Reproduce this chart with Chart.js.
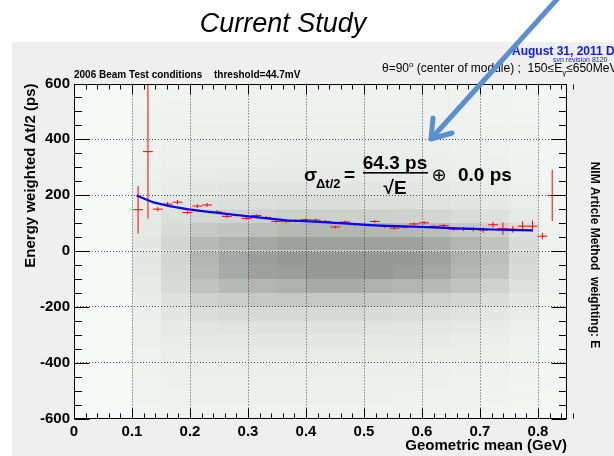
<!DOCTYPE html>
<html>
<head>
<meta charset="utf-8">
<script src="https://cdn.jsdelivr.net/npm/chart.js@4/dist/chart.umd.min.js"></script>
<style>
html,body{margin:0;padding:0;background:#fff;}
#wrap{position:relative;width:614px;height:456px;}
</style>
</head>
<body>
<div id="wrap"><canvas id="c" width="614" height="456"></canvas></div>
<script>
// ---------------- data ----------------
// profile histogram (red crosses): bin centres (GeV), mean (ps), error (ps)
const profileX = [0.1105,0.1275,0.1445,0.1615,0.1785,0.1955,0.2125,0.2295,0.2465,0.2635,0.2805,0.2975,0.3145,0.3315,0.3485,0.3655,0.3825,0.3995,0.4165,0.4335,0.4505,0.4675,0.4845,0.5015,0.5185,0.5355,0.5525,0.5695,0.5865,0.6035,0.6205,0.6375,0.6545,0.6715,0.6885,0.7055,0.7225,0.7395,0.7565,0.7735,0.7905,0.8075,0.8245];
const profileY = [148,356,150,168,175,138,161,165,140,124,128,117,127,120,106,105,107,112,111,106,86,104,96,94,106,88,82,86,97,101,88,91,78,79,78,75,94,80,78,89,89,53,199];
const profileErr = [85,240,8,8,8,7,7,7,6,6,5,5,5,5,5,5,5,5,5,5,5,5,5,5,5,5,5,5,5,6,6,6,6,7,8,9,10,22,12,18,20,12,92];
const profileBinHalfWidth = 0.0085;

// blue fitted curve, read at these energies
const fitX = [0.108,0.137,0.165,0.195,0.225,0.252,0.28,0.309,0.338,0.367,0.395,0.424,0.45,0.48,0.51,0.54,0.57,0.6,0.63,0.66,0.69,0.72,0.75,0.79];
const fitY = [199,174,161,150,142,136,129,122,116,110,107,104,101,97,93,90,88,86,84,81,79,77,76,74];

// scatter-point density (relative, 0..10), columns = cellX, rows between cellYEdges (top to bottom)
const cellX = [0.125,0.175,0.225,0.275,0.325,0.375,0.425,0.475,0.525,0.575,0.625,0.675,0.725,0.775,0.825];
const cellYEdges = [600,550,500,450,400,350,300,250,200,150,100,50,0,-50,-100,-150,-200,-250,-300,-350,-400,-450,-500,-550,-600];
const density = [
 [0.5,0.5,0.8,0.8,0.8,0.8,0.8,0.8,0.8,0.8,0.8,0.6,0.6,0.5,0.3],
 [0.5,0.6,0.8,0.8,0.8,0.8,0.8,0.8,0.8,0.8,0.8,0.6,0.6,0.5,0.3],
 [0.6,0.7,0.9,0.9,0.9,0.9,0.9,0.9,0.9,0.9,0.8,0.7,0.6,0.5,0.3],
 [0.6,0.8,1.0,1.0,1.0,1.0,1.0,1.0,1.0,1.0,0.9,0.8,0.7,0.6,0.3],
 [0.7,0.9,1.1,1.1,1.1,1.1,1.1,1.1,1.1,1.1,1.0,0.9,0.8,0.6,0.4],
 [0.8,1.0,1.2,1.2,1.2,1.3,1.3,1.3,1.3,1.2,1.1,1.0,0.9,0.7,0.4],
 [0.9,1.2,1.4,1.5,1.5,1.5,1.5,1.5,1.5,1.4,1.3,1.2,1.0,0.8,0.4],
 [1.0,1.4,1.8,2.0,2.0,2.0,2.0,2.0,2.0,1.9,1.7,1.5,1.2,1.0,0.5],
 [1.2,1.8,2.4,2.6,2.7,2.8,2.8,2.8,2.7,2.6,2.3,2.0,1.6,1.2,0.5],
 [1.5,2.5,3.4,3.8,4.0,4.2,4.3,4.3,4.2,4.0,3.5,3.0,2.4,1.6,0.6],
 [1.7,3.0,5.0,5.5,6.0,6.5,6.8,6.8,6.8,6.5,6.0,5.0,4.0,2.5,0.7],
 [1.8,3.5,6.5,7.5,8.5,9.0,9.0,9.0,9.0,9.0,8.0,7.0,5.5,3.0,0.8],
 [1.8,3.5,7.0,8.5,9.5,10,10,10,10,10,9.0,7.5,6.0,3.3,0.8],
 [1.7,3.3,6.5,8.0,9.0,9.5,10,10,10,9.5,8.5,7.0,5.5,3.0,0.8],
 [1.5,3.0,5.5,6.5,7.0,7.5,8.0,8.0,7.5,7.0,6.5,5.5,4.0,2.5,0.7],
 [1.3,2.4,4.0,4.5,5.0,5.0,5.0,5.0,4.8,4.5,4.0,3.5,2.8,1.8,0.6],
 [1.1,1.9,2.8,3.0,3.2,3.2,3.2,3.2,3.0,2.8,2.6,2.3,1.8,1.3,0.5],
 [1.0,1.5,2.0,2.2,2.3,2.3,2.3,2.3,2.2,2.0,1.9,1.7,1.4,1.0,0.4],
 [0.9,1.3,1.6,1.7,1.8,1.8,1.8,1.8,1.7,1.6,1.5,1.3,1.1,0.8,0.4],
 [0.8,1.1,1.3,1.4,1.4,1.4,1.4,1.4,1.4,1.3,1.2,1.1,0.9,0.7,0.3],
 [0.7,1.0,1.1,1.2,1.2,1.2,1.2,1.2,1.1,1.1,1.0,0.9,0.8,0.6,0.3],
 [0.6,0.9,1.0,1.0,1.0,1.0,1.0,1.0,1.0,1.0,0.9,0.8,0.7,0.5,0.3],
 [0.6,0.8,0.9,0.9,0.9,0.9,0.9,0.9,0.9,0.8,0.8,0.7,0.6,0.5,0.2],
 [0.5,0.7,0.8,0.8,0.8,0.8,0.8,0.8,0.8,0.7,0.7,0.6,0.5,0.4,0.2]
];

// axes
const xMin = 0, xMax = 0.85, xStep = 0.1, xMinorStep = 0.02;
const yMin = -600, yMax = 600, yStep = 200, yMinorStep = 50;

// ---------------- build datasets ----------------
const FONT = "'Liberation Sans', Arial, Helvetica, sans-serif";

const cells = [];
for (let r = 0; r < density.length; r++) {
  for (let c = 0; c < cellX.length; c++) {
    cells.push({x: cellX[c], y: [cellYEdges[r + 1], cellYEdges[r]], d: density[r][c]});
  }
}

const errSegs = [];
for (let i = 0; i < profileX.length; i++) {
  const x = profileX[i], v = profileY[i], e = profileErr[i];
  errSegs.push({x: x - profileBinHalfWidth, y: v}, {x: x + profileBinHalfWidth, y: v}, {x: x, y: null});
  errSegs.push({x: x, y: v - e}, {x: x, y: v + e}, {x: x, y: null});
}

const fitPts = fitX.map((x, i) => ({x: x, y: fitY[i]}));

// ---------------- plugins ----------------
const background = {
  id: 'background',
  beforeDraw(chart) {
    const {ctx, chartArea: a} = chart;
    ctx.save();
    ctx.fillStyle = '#ffffff';
    ctx.fillRect(0, 0, chart.width, chart.height);
    ctx.fillStyle = '#efefef';
    ctx.fillRect(12, 42, chart.width - 12, chart.height - 42);
    ctx.fillStyle = '#f5faf6';
    ctx.fillRect(a.left, a.top, a.right - a.left, a.bottom - a.top);
    ctx.restore();
  }
};

const frame = {
  id: 'frame',
  afterDatasetsDraw(chart) {
    const {ctx, chartArea: a, scales: {x, y}} = chart;
    const L = Math.round(a.left) + 0.5, R = Math.round(a.right) - 0.5;
    const T = Math.round(a.top) + 0.5, B = Math.round(a.bottom) - 0.5;
    ctx.save();
    ctx.strokeStyle = '#000';
    ctx.lineWidth = 1;
    ctx.beginPath();
    const nx = Math.round((xMax - xMin) / xMinorStep);
    const perMajX = Math.round(xStep / xMinorStep);
    for (let i = 0; i <= nx; i++) {
      const px = Math.round(x.getPixelForValue(xMin + i * xMinorStep)) + 0.5;
      const len = (i % perMajX === 0) ? 10 : 5;
      ctx.moveTo(px, B); ctx.lineTo(px, B - len);
      ctx.moveTo(px, T); ctx.lineTo(px, T + len);
    }
    const ny = Math.round((yMax - yMin) / yMinorStep);
    const perMajY = Math.round(yStep / yMinorStep);
    for (let i = 0; i <= ny; i++) {
      const py = Math.round(y.getPixelForValue(yMin + i * yMinorStep)) + 0.5;
      const len = (i % perMajY === 0) ? 15 : 7.5;
      ctx.moveTo(L, py); ctx.lineTo(L + len, py);
      ctx.moveTo(R, py); ctx.lineTo(R - len, py);
    }
    ctx.stroke();
    ctx.strokeRect(L, T, R - L, B - T);
    ctx.restore();
  }
};

const annotations = {
  id: 'annotations',
  afterDraw(chart) {
    const ctx = chart.ctx;
    ctx.save();
    ctx.fillStyle = '#000';
    ctx.textBaseline = 'alphabetic';
    // page title
    ctx.font = 'italic 27px ' + FONT;
    ctx.textAlign = 'center';
    ctx.fillText('Current Study', 283, 32);

    // top-left caption
    ctx.textAlign = 'left';
    ctx.font = 'bold 10px ' + FONT;
    ctx.fillText('2006 Beam Test conditions', 74, 78);
    ctx.fillText('threshold=44.7mV', 214, 78);

    // top-right captions
    ctx.fillStyle = '#0a1aff';
    ctx.font = 'bold 12px ' + FONT;
    ctx.fillText('August 31, 2011 DL', 512, 55);
    ctx.font = '7px ' + FONT;
    ctx.fillText('svn revision 8120', 553, 62);

    ctx.fillStyle = '#000';
    ctx.font = '12px ' + FONT;
    let xx = 382;
    const put = (t, f, dy) => { ctx.font = f; ctx.fillText(t, xx, 72 + (dy || 0)); xx += ctx.measureText(t).width; };
    put('\u03b8=90', '12px ' + FONT);
    put('o', '8px ' + FONT, -5);
    put(' (center of module) ;  150\u2264E', '12px ' + FONT);
    put('\u03b3', '8px ' + FONT, 3);
    put('\u2264650MeV', '12px ' + FONT);

    // formula
    ctx.font = 'bold 19px ' + FONT;
    ctx.fillText('\u03c3', 304, 181);
    ctx.font = 'bold 13px ' + FONT;
    ctx.fillText('\u0394t/2', 316, 188);
    ctx.font = 'bold 19px ' + FONT;
    ctx.fillText('=', 344, 181);
    ctx.textAlign = 'center';
    ctx.fillText('64.3 ps', 395, 169);
    ctx.fillText('\u221aE', 395, 194);
    ctx.fillRect(363, 172, 65, 1.6);
    ctx.font = '18px DejaVu Sans';
    ctx.fillText('\u2295', 439, 181);
    ctx.textAlign = 'left';
    ctx.font = 'bold 19px ' + FONT;
    ctx.fillText('0.0 ps', 458, 181);

    // right vertical label
    ctx.save();
    ctx.translate(594, 255);
    ctx.rotate(Math.PI / 2);
    ctx.textAlign = 'center';
    ctx.textBaseline = 'middle';
    ctx.font = 'bold 12px ' + FONT;
    ctx.fillText('NIM Article Method  weighting: E', 0, 0);
    ctx.restore();

    // arrow
    ctx.strokeStyle = '#5b8fcf';
    ctx.lineWidth = 5;
    ctx.lineCap = 'round';
    ctx.beginPath();
    ctx.moveTo(560, -4);
    ctx.lineTo(431, 139);
    ctx.moveTo(431, 139);
    ctx.lineTo(433, 118);
    ctx.moveTo(431, 139);
    ctx.lineTo(452, 133);
    ctx.stroke();
    ctx.restore();
  }
};

// ---------------- chart ----------------
const gridColor = (edges) => (c) => {
  const v = c.tick ? c.tick.value : null;
  if (v === null || edges.some(e => Math.abs(e - v) < 1e-9)) return 'rgba(0,0,0,0)';
  return '#555';
};

new Chart(document.getElementById('c'), {
  type: 'scatter',
  data: {
    datasets: [
      {
        type: 'line', label: 'fit', data: fitPts, order: 0,
        borderColor: '#0000ff', borderWidth: 2.2, pointRadius: 0, tension: 0, fill: false
      },
      {
        type: 'line', label: 'profile', data: errSegs, order: 1,
        borderColor: '#ff0000', borderWidth: 1, pointRadius: 0, tension: 0, fill: false, spanGaps: false
      },
      {
        type: 'bar', label: 'scatter density', data: cells, order: 2,
        grouped: false, barPercentage: 1, categoryPercentage: 1, borderWidth: 0, inflateAmount: 0,
        backgroundColor: (c) => c.raw ? 'rgba(0,0,0,' + (c.raw.d * 0.039).toFixed(3) + ')' : 'rgba(0,0,0,0)'
      }
    ]
  },
  options: {
    responsive: false,
    animation: false,
    events: [],
    devicePixelRatio: 1,
    layout: {padding: {left: 0, top: 83.5, right: 47, bottom: 0}},
    plugins: {legend: {display: false}, tooltip: {enabled: false}, title: {display: false}},
    scales: {
      x: {
        type: 'linear', min: xMin, max: xMax, offset: false,
        afterFit: (s) => { s.height = 37.5; },
        grid: {offset: false, drawTicks: false, color: gridColor([xMin, xMax]), lineWidth: 1},
        border: {display: false, dash: [1, 2]},
        ticks: {stepSize: xStep, includeBounds: false, padding: 4, color: '#000', font: {family: FONT, size: 15, weight: 'bold'}},
        title: {display: true, text: 'Geometric mean (GeV)', align: 'end', color: '#000', padding: {top: 0, bottom: 1}, font: {family: FONT, size: 15, weight: 'bold'}}
      },
      y: {
        type: 'linear', min: yMin, max: yMax,
        afterFit: (s) => { s.width = 74; },
        grid: {drawTicks: false, color: gridColor([yMin, yMax]), lineWidth: 1},
        border: {display: false, dash: [1, 2]},
        ticks: {stepSize: yStep, padding: 4, color: '#000', font: {family: FONT, size: 15, weight: 'bold'}},
        title: {display: true, text: 'Energy weighted \u0394t/2 (ps)', align: 'end', color: '#000', padding: {top: 22, bottom: 0}, font: {family: FONT, size: 15, weight: 'bold'}}
      }
    }
  },
  plugins: [background, frame, annotations]
});
</script>
</body>
</html>
